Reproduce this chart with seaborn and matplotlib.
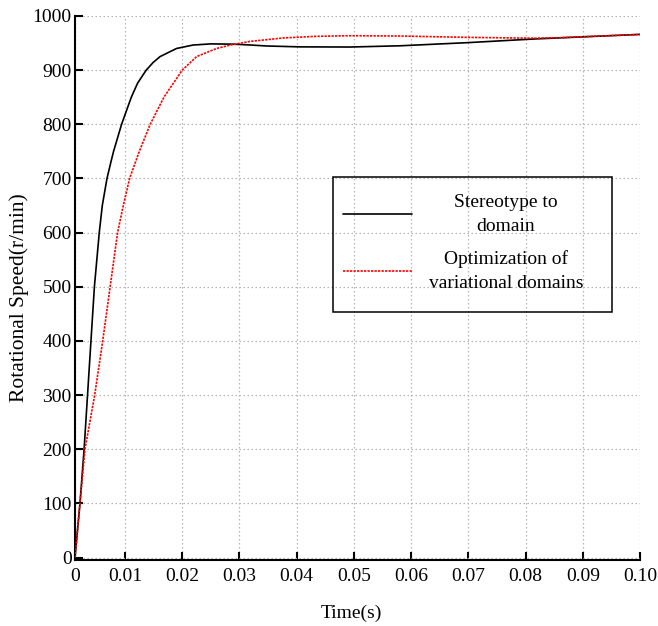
import numpy as np
import pandas as pd
import matplotlib
matplotlib.use("Agg")
import matplotlib.pyplot as plt
import seaborn as sns
from matplotlib.patches import Rectangle

# ---- data ----
time_stereo = [0.00126, 0.00213, 0.00285, 0.00345, 0.00405, 0.00465, 0.00550, 0.00603,
               0.00685, 0.00755, 0.0080, 0.0094, 0.0111, 0.0122, 0.0137, 0.0149, 0.01612,
               0.019, 0.0219, 0.025, 0.0289, 0.0318, 0.0348, 0.0406, 0.0493, 0.0581,
               0.0697, 0.0814, 0.0907, 0.1]
speed_stereo = [0, 100, 200, 300, 400, 500, 600, 650,
                700, 731, 750, 800, 850, 876, 900, 914, 925,
                940, 946.4, 948.5, 948, 946.5, 944.6, 943, 942.7, 945,
                950.7, 957.5, 961.8, 966]

time_optim = [0.00126, 0.00213, 0.0030, 0.0047, 0.0061, 0.0074, 0.0087, 0.0097, 0.0108,
              0.0125, 0.0144, 0.0168, 0.0200, 0.0225, 0.026, 0.0284, 0.0318, 0.0377,
              0.0435, 0.0493, 0.0581, 0.0697, 0.0814, 0.086, 0.1]
speed_optim = [0, 100, 200, 300, 400, 500, 600, 650, 700,
               750, 800, 850, 900, 925, 940, 946.4, 953, 959.5,
               962.5, 963.6, 963, 960.6, 959, 960, 966]

x_ticks = [0.00126, 0.01, 0.02, 0.03, 0.04, 0.05, 0.06, 0.07, 0.08, 0.09, 0.10]
x_tick_labels = ["0", "0.01", "0.02", "0.03", "0.04", "0.05", "0.06", "0.07", "0.08", "0.09", "0.10"]
y_ticks = [0, 100, 200, 300, 400, 500, 600, 700, 800, 900, 1000]
series_labels = ["Stereotype to\ndomain", "Optimization of\nvariational domains"]
x_label = "Time(s)"
y_label = "Rotational Speed(r/min)"

sns.set_theme(style="white")
plt.rcParams['font.family'] = ['Liberation Serif', 'DejaVu Serif']
FS = 14

fig = plt.figure(figsize=(6.58, 6.26), dpi=100)
ax = fig.add_axes([75 / 658, 1 - 560 / 626, 565 / 658, 544 / 626])

df_a = pd.DataFrame({"t": time_stereo, "v": speed_stereo})
df_b = pd.DataFrame({"t": time_optim, "v": speed_optim})
sns.lineplot(data=df_a, x="t", y="v", ax=ax, color="black", linewidth=1.2,
             label=series_labels[0], estimator=None, sort=False, zorder=3)
sns.lineplot(data=df_b, x="t", y="v", ax=ax, color="#ff0000", linewidth=1.2,
             linestyle=(0, (1.4, 0.7)), label=series_labels[1], estimator=None,
             sort=False, zorder=3)

ax.set_xlim(0.00126, 0.10)
ax.set_ylim(-4.6, 1000)
ax.set_xticks(x_ticks)
ax.set_xticklabels(x_tick_labels)
ax.set_yticks(y_ticks)
ax.set_yticklabels([str(v) for v in y_ticks])

ax.grid(True, color="#b4b4b4", linestyle=(0, (1.2, 2.0)), linewidth=0.9)
for s in ["top", "right"]:
    ax.spines[s].set_visible(False)
for s in ["left", "bottom"]:
    ax.spines[s].set_color("black")
    ax.spines[s].set_linewidth(1.5)
ax.tick_params(axis="both", direction="in", length=5.5, width=1.5, colors="black",
               labelsize=FS, left=True, bottom=True, top=False, right=False)
ax.tick_params(axis="x", pad=6)
ax.tick_params(axis="y", pad=2.5)

ax.set_xlabel(x_label, fontsize=FS, color="black")
ax.set_ylabel(y_label, fontsize=15.5, color="black")
ax.xaxis.set_label_coords(0.4885, -0.082)
ax.yaxis.set_label_coords(-0.082, 0.483)

leg = ax.legend(loc="center", bbox_to_anchor=(0.6867, 0.583), frameon=False,
                fontsize=FS, handlelength=3.55, handletextpad=0.87,
                labelspacing=0.8, borderpad=0, borderaxespad=0)
for t in leg.get_texts():
    t.set_multialignment("center")
    t.set_linespacing(1.5)
    t.set_color("black")
fig.canvas.draw()
rend = fig.canvas.get_renderer()
widths = [t.get_window_extent(rend).width for t in leg.get_texts()]
wmax = max(widths)
for t, w in zip(leg.get_texts(), widths):
    t.set_x((wmax - w) / 2)

ax.add_patch(Rectangle((0.4566, 0.4564), 0.4938, 0.2471, transform=ax.transAxes,
                       fill=False, edgecolor="black", linewidth=1.1, zorder=4,
                       clip_on=False))

fig.savefig("out.png", dpi=100)
